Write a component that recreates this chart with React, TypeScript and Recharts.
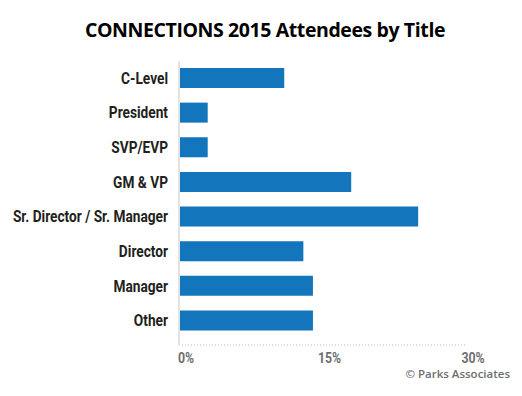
import React from "react";
import { BarChart, Bar, XAxis, YAxis } from "recharts";

const titles = [
  "C-Level",
  "President",
  "SVP/EVP",
  "GM & VP",
  "Sr. Director / Sr. Manager",
  "Director",
  "Manager",
  "Other",
];
const shares = [11, 3, 3, 18, 25, 13, 14, 14];
const xTicks = [0, 15, 30];

const data = titles.map((title, i) => ({ title, share: shares[i] }));

const BLUE = "#1375BB";

// no condensed face installed, so squeeze Roboto bold horizontally
const CategoryTick = (props: any) => {
  const { x, y, payload } = props;
  return (
    <text
      transform={`translate(${x},${y}) scale(0.83,1)`}
      x={0}
      y={0}
      dy={5.5}
      textAnchor="end"
      fontFamily="Roboto, sans-serif"
      fontWeight={700}
      fontSize={16.5}
      fill="#231F20"
    >
      {payload.value}
    </text>
  );
};

const PercentTick = (props: any) => {
  const { x, y, payload } = props;
  return (
    <text
      transform={`translate(${x + 7},${y + 9.5}) scale(0.88,1)`}
      x={0}
      y={0}
      textAnchor="middle"
      fontFamily="Roboto, sans-serif"
      fontWeight={700}
      fontSize={14}
      fill="#6D6E71"
    >
      {payload.value}%
    </text>
  );
};

export default function App() {
  return (
    <div
      style={{
        position: "absolute",
        left: 0,
        top: 0,
        width: 522,
        height: 396,
        background: "#fff",
      }}
    >
      <div
        style={{
          position: "absolute",
          left: 0,
          width: 530,
          top: 16,
          textAlign: "center",
          fontFamily: "'Open Sans', sans-serif",
          fontWeight: 700,
          fontSize: 19.5,
          color: "#000",
          letterSpacing: -0.4,
        }}
      >
        CONNECTIONS 2015 Attendees by Title
      </div>
      <BarChart
        layout="vertical"
        width={522}
        height={396}
        data={data}
        margin={{ top: 61, right: 56, bottom: 21, left: 0 }}
        barSize={20}
      >
        <XAxis
          type="number"
          domain={[0, 30]}
          ticks={xTicks}
          tick={<PercentTick />}
          tickLine={false}
          axisLine={{ stroke: "#BDBDBD", strokeDasharray: "1 2" }}
          height={30}
        />
        <YAxis
          type="category"
          dataKey="title"
          width={179}
          tick={<CategoryTick />}
          tickLine={false}
          tickMargin={5}
          axisLine={{ stroke: "#E3E3E3", strokeWidth: 2 }}
          padding={{ top: 0, bottom: 7 }}
        />
        <Bar dataKey="share" fill={BLUE} isAnimationActive={false} />
      </BarChart>
      <div
        style={{
          position: "absolute",
          right: 12,
          top: 366,
          fontFamily: "'Open Sans', sans-serif",
          fontSize: 11.5,
          fontWeight: 600,
          color: "#6D6E71",
        }}
      >
        © Parks Associates
      </div>
    </div>
  );
}
